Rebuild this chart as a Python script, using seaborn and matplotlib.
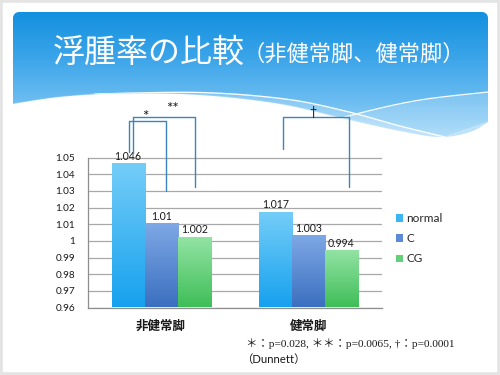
import numpy as np
import pandas as pd
import matplotlib
matplotlib.use('Agg')
import matplotlib.pyplot as plt
import seaborn as sns
from matplotlib.colors import LinearSegmentedColormap
from matplotlib.patches import PathPatch, Rectangle
from matplotlib.path import Path

# ---------------- data ----------------
legs = ['非健常脚', '健常脚']
groups = ['normal', 'C', 'CG']
normal_vals = [1.046, 1.017]
c_vals = [1.010, 1.003]
cg_vals = [1.002, 0.994]
normal_labels = ['1.046', '1.017']
c_labels = ['1.01', '1.003']
cg_labels = ['1.002', '0.994']
y_ticks = [0.96, 0.97, 0.98, 0.99, 1.00, 1.01, 1.02, 1.03, 1.04, 1.05]
title_main = '浮腫率の比較'
title_sub = '（非健常脚、健常脚）'
footnote1 = '＊：p=0.028, ＊＊：p=0.0065, †：p=0.0001'
footnote2 = '（Dunnett）'
sig_marks = ['*', '**', '†']

# ---------------- style ----------------
sns.set_style('white')
CJK = ['Noto Sans CJK JP', 'DejaVu Sans']
NUM = ['Lato', 'Noto Sans CJK JP', 'DejaVu Sans']
plt.rcParams['font.family'] = NUM

top_cols = {'normal': '#74cdf8', 'C': '#7ea8e6', 'CG': '#92e3a3'}
bot_cols = {'normal': '#16a1ee', 'C': '#3b6fbf', 'CG': '#3fbe58'}
mid_cols = {'normal': '#3db5f2', 'C': '#5a8bd3', 'CG': '#62cf7a'}

fig = plt.figure(figsize=(5, 3.75), dpi=100)
fig.patch.set_facecolor('white')

# ---------------- slide background ----------------
bg = fig.add_axes([0, 0, 1, 1], zorder=-10)
bg.set_xlim(0, 500)
bg.set_ylim(375, 0)
bg.axis('off')


def smooth(pts, n=24):
    pts = np.asarray(pts, float)
    P = np.vstack([pts[0], pts, pts[-1]])
    out = []
    t = np.linspace(0, 1, n, endpoint=False)[:, None]
    for i in range(1, len(P) - 2):
        p0, p1, p2, p3 = P[i - 1], P[i], P[i + 1], P[i + 2]
        out.append(0.5 * ((2 * p1) + (-p0 + p2) * t + (2 * p0 - 5 * p1 + 4 * p2 - p3) * t ** 2
                          + (-p0 + 3 * p1 - 3 * p2 + p3) * t ** 3))
    out.append(P[-2][None])
    return np.vstack(out)


bottom_curve = smooth([(13, 104), (60, 97), (120, 93.5), (200, 95), (280, 104),
                       (350, 120), (400, 131), (440, 137), (470, 132), (488, 122)])
r = 6
arc_l = [(13 + r - r * np.cos(a), 12 + r - r * np.sin(a)) for a in np.linspace(0, np.pi / 2, 8)]
arc_r = [(488 - r + r * np.cos(a), 12 + r - r * np.sin(a)) for a in np.linspace(np.pi / 2, 0, 8)]
verts = [(13, 104)] + arc_l + arc_r + [(488, 122)] + list(bottom_curve[::-1])
banner = PathPatch(Path(verts), transform=bg.transData, facecolor='none', edgecolor='none')
bg.add_patch(banner)
grad_cmap = LinearSegmentedColormap.from_list(
    'bn', [(0, '#1390df'), (0.35, '#3aa4e9'), (0.7, '#6cbdf1'), (1, '#a6d9f8')])
g = np.linspace(0, 1, 256)[:, None]
im = bg.imshow(g, extent=[13, 488, 140, 12], cmap=grad_cmap, aspect='auto',
               origin='upper', zorder=0)
im.set_clip_path(banner)

curve_a = smooth([(95, 94), (200, 92.5), (285, 99), (345, 111), (400, 126), (445, 137)])
bg.fill(np.r_[curve_a[:, 0], bottom_curve[::-1, 0]],
        np.r_[curve_a[:, 1], bottom_curve[::-1, 1]],
        color='white', alpha=0.22, zorder=1)
curve_c = smooth([(307, 128), (360, 113), (420, 100), (488, 92)])
lc = PathPatch(Path(list(curve_c) + [(488, 122), (470, 132), (440, 137), (400, 131), (350, 120)]),
               transform=bg.transData, facecolor='white', alpha=0.18, edgecolor='none', zorder=1)
lc.set_clip_path(banner)
bg.add_patch(lc)
for cv in (curve_a, curve_c):
    ln, = bg.plot(cv[:, 0], cv[:, 1], color='white', lw=0.9, alpha=0.95, zorder=2)
    ln.set_clip_path(banner)
bg.add_patch(Rectangle((0, 0), 500, 375, fill=False, edgecolor='#e4e4e4', lw=4, zorder=3))

# ---------------- chart ----------------
ax = fig.add_axes([0.175, 0.18, 0.589, 0.40], zorder=5)
ax.patch.set_alpha(0)

rows = []
for grp, vals in zip(groups, [normal_vals, c_vals, cg_vals]):
    for leg, v in zip(legs, vals):
        rows.append({'leg': leg, 'group': grp, 'value': v})
df = pd.DataFrame(rows)

sns.barplot(data=df, x='leg', y='value', hue='group', order=legs, hue_order=groups,
            palette=mid_cols, width=0.673, errorbar=None, saturation=1, legend=False, ax=ax)

ymin, ymax = y_ticks[0], y_ticks[-1]
label_sets = {'normal': normal_labels, 'C': c_labels, 'CG': cg_labels}
for grp, cont in zip(groups, ax.containers):
    cmap = LinearSegmentedColormap.from_list(grp, [bot_cols[grp], top_cols[grp]])
    for p in cont.patches:
        x0, w, top = p.get_x(), p.get_width(), p.get_y() + p.get_height()
        ax.imshow(np.linspace(0, 1, 128)[:, None], extent=[x0, x0 + w, ymin, top],
                  origin='lower', cmap=cmap, aspect='auto', zorder=2, interpolation='bilinear')
        p.set_visible(False)
    ax.bar_label(cont, labels=label_sets[grp], padding=1.5, fontsize=7.6, color='#1a1a1a',
                 family=NUM, zorder=4)

ax.set_xlim(-0.5, 1.5)
ax.set_ylim(ymin, ymax)
ax.set_yticks(y_ticks)
ax.set_yticklabels(['%g' % t for t in y_ticks])
ax.yaxis.grid(True, color='#a8a8a8', lw=0.9)
ax.set_axisbelow(True)
for s in ('top', 'right'):
    ax.spines[s].set_visible(False)
for s in ('left', 'bottom'):
    ax.spines[s].set_color('#8e8e8e')
    ax.spines[s].set_linewidth(0.9)
ax.tick_params(axis='y', length=3, width=0.8, color='#8e8e8e', pad=6,
               labelsize=7.2, labelcolor='#1a1a1a')
ax.set_xticks([0, 1])
ax.set_xticklabels(legs, family=CJK, fontsize=9, fontweight='bold', color='#1a1a1a')
ax.set_xticks([-0.5, 0.5, 1.5], minor=True)
ax.tick_params(axis='x', which='major', length=0, pad=9)
ax.tick_params(axis='x', which='minor', length=4, width=0.8, color='#8e8e8e')
ax.set_xlabel('')
ax.set_ylabel('')

# legend
handles = [Rectangle((0, 0), 1, 1, facecolor=mid_cols[gname], edgecolor='none') for gname in groups]
ax.legend(handles, groups, loc='upper left', bbox_to_anchor=(0.791, 1 - 213 / 375),
          bbox_transform=fig.transFigure, frameon=False, handlelength=0.6, handleheight=0.6,
          handletextpad=0.3, labelspacing=0.78, borderpad=0, borderaxespad=0,
          prop={'family': NUM, 'size': 8.5})

# significance brackets (data coordinates)
br_col = '#3a85bb'
brackets = [(-0.221, 0.031, 1.0719, 1.0535, 1.0299),
            (-0.192, 0.233, 1.0745, 1.0529, 1.0321),
            (0.829, 1.278, 1.0745, 1.0549, 1.0325)]
mark_pos = [(-0.107, 1.0716), (0.078, 1.0768), (1.031, 1.0752)]
mark_size = [11, 11, 9]
for (xl, xr, yt, ylb, yrb), mk, (mx, my), ms in zip(brackets, sig_marks, mark_pos, mark_size):
    ax.plot([xl, xl, xr, xr], [ylb, yt, yt, yrb], color=br_col, lw=1.0, clip_on=False, zorder=6)
    ax.text(mx, my, mk, ha='center', va='baseline', fontsize=ms,
            family=NUM, color='#1a1a1a', clip_on=False, zorder=7)

# title: main part then smaller parenthetical part directly after it
t_main = fig.text(53 / 500, 1 - 53 / 375, title_main, color='white', fontsize=23, family=CJK,
                  ha='left', va='center')
fig.canvas.draw()
bb = t_main.get_window_extent(renderer=fig.canvas.get_renderer())
x_after = bb.x1 / fig.bbox.width
fig.text(x_after - 0.004, 1 - 54 / 375, title_sub, color='white', fontsize=16, family=CJK,
         ha='left', va='center')

# footnote
fig.text(246 / 500, 1 - 344 / 375, footnote1, fontsize=8.2,
         family=['Liberation Serif', 'Noto Sans CJK JP'], color='#1a1a1a', ha='left', va='center')
fig.text(241 / 500, 1 - 359 / 375, footnote2, fontsize=8.2, family=NUM, color='#1a1a1a',
         ha='left', va='center')

fig.savefig('out.png', dpi=100)
